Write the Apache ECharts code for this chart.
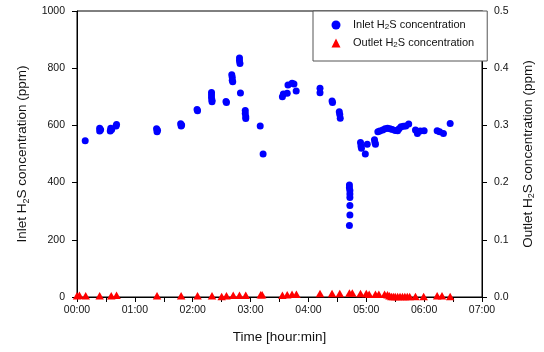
<!DOCTYPE html>
<html>
<head>
<meta charset="utf-8">
<title>H2S concentration</title>
<script src="https://cdn.jsdelivr.net/npm/echarts@6/dist/echarts.min.js"></script>
<style>
  html, body { margin: 0; padding: 0; background: #fff; }
  #chart { width: 544px; height: 352px; }
</style>
</head>
<body>
<div id="chart"></div>
<script>
// Elapsed time in minutes, concentrations in ppm
const inletTime = [
  8.5,
  23.5, 23.5, 24.5,
  34.5, 35, 36,
  40.5, 41,
  82.5, 83, 83.5,
  107.5, 108, 108.5,
  124.5, 125,
  139.5, 139.5, 139.5, 140, 140,
  154.5, 155,
  160.5, 161, 161, 161.5,
  168.5, 168.5, 169,
  169.5,
  174.5, 174.5, 175, 175,
  190,
  193,
  213, 214, 218, 218.8, 223, 225, 227.3,
  252, 252,
  264.5, 265,
  272, 272.5, 273,
  282.5, 282.5, 283, 283, 283, 283, 283, 282.5,
  294, 294.5, 295,
  299,
  301,
  308.5, 309, 309.5,
  312, 314, 317, 319.5, 322, 324.5, 327, 330, 332.5, 334, 336, 338.5, 341, 344,
  351, 353, 356, 360,
  373.5, 376, 380,
  387
];
const inletValue = [
  546,
  590, 580, 585,
  580, 590, 586,
  598, 603,
  588, 578, 583,
  606, 598, 601,
  656, 651,
  715, 706, 697, 688, 683,
  684, 680,
  777, 768, 758, 753,
  836, 826, 816,
  713,
  652, 642, 630, 624,
  598,
  500,
  700, 710, 712, 741, 747, 745, 720,
  730, 714,
  685, 680,
  648, 638, 625,
  392, 382, 372, 360, 348, 320, 287, 250,
  540, 528, 520,
  500,
  534,
  550, 540, 534,
  578, 580, 584, 588, 590, 588, 586, 582, 581, 588, 595, 597, 598, 605,
  584, 572, 580, 581,
  581, 578, 572,
  607
];
const outletTime = [
  0, 2.5, 9, 23.5, 35.5, 41, 83, 108, 125, 140, 150, 155, 162, 168.5, 175,
  190.5, 192, 213, 218, 223, 227.5, 252, 264.5, 272.5, 282.5, 285.5, 294,
  300, 303, 309.5, 313, 319, 322, 324, 326, 328, 330, 332.5, 335, 337.5,
  340, 342.5, 345, 351, 359.5, 373.5, 378.5, 387
];
const outletValue = [
  0.002, 0.003, 0.002, 0.002, 0.002, 0.003, 0.002, 0.002, 0.002, 0.002, 0.001, 0.002, 0.003, 0.003, 0.003,
  0.004, 0.004, 0.003, 0.004, 0.005, 0.005, 0.006, 0.006, 0.006, 0.007, 0.007, 0.006,
  0.006, 0.005, 0.005, 0.005, 0.005, 0.004, 0.002, 0.001, 0.001, 0.001, 0.001, 0.001, 0.001,
  0.001, 0.001, 0.001, 0.001, 0.001, 0.002, 0.002, 0.001
];
const seriesNames = ['Inlet H2S concentration', 'Outlet H2S concentration'];

const FONT = '"Liberation Sans", Arial, sans-serif';
const inletData = inletTime.map((t, i) => [t, inletValue[i]]);
const outletData = outletTime.map((t, i) => [t, outletValue[i]]);

// Axis titles with a subscript "2" in H2S
function richLabel(text) {
  const parts = text.split('H2S');
  return '{a|' + parts[0] + 'H}{s|2}{a|S' + parts[1] + '}';
}
const titleRich = {
  a: { fontFamily: FONT, fontSize: 13.5, color: '#111', lineHeight: 16 },
  s: { fontFamily: FONT, fontSize: 9, color: '#111', lineHeight: 5, verticalAlign: 'bottom' }
};

const chart = echarts.init(document.getElementById('chart'), null, { renderer: 'canvas' });
chart.setOption({
  animation: false,
  backgroundColor: '#fff',
  grid: {
    left: 77, right: 58, top: 11, bottom: 55,
    show: true, borderColor: '#000', borderWidth: 1, backgroundColor: 'transparent'
  },
  legend: {
    left: 313, top: 11,
    orient: 'vertical',
    padding: [8, 13, 12, 18.5],
    itemGap: 6,
    itemWidth: 9, itemHeight: 9,
    backgroundColor: '#fff',
    borderColor: '#555', borderWidth: 1,
    data: [
      { name: seriesNames[0], icon: 'circle' },
      { name: seriesNames[1], icon: 'triangle' }
    ],
    formatter: function (name) {
      const parts = name.split('H2S');
      return '{sp| }{t|' + parts[0] + 'H}{s|2}{t|S' + parts[1] + '}';
    },
    textStyle: {
      rich: {
        sp: { width: 7.5 },
        t: { fontFamily: FONT, fontSize: 11, color: '#111', lineHeight: 12 },
        s: { fontFamily: FONT, fontSize: 8, color: '#111', lineHeight: 4, verticalAlign: 'bottom' }
      }
    }
  },
  xAxis: {
    type: 'value',
    min: 0, max: 420, interval: 30,
    name: 'Time [hour:min]',
    nameLocation: 'middle',
    nameGap: 33,
    nameTextStyle: { fontFamily: FONT, fontSize: 13.5, color: '#111' },
    axisLine: { lineStyle: { color: '#000', width: 1 } },
    axisTick: { length: 5, lineStyle: { color: '#000' } },
    splitLine: { show: false },
    axisLabel: {
      margin: 8,
      fontFamily: FONT, fontSize: 10.5, color: '#111',
      showMinLabel: true, showMaxLabel: true,
      formatter: function (v) {
        if (v % 60 !== 0) return '';
        const h = Math.floor(v / 60);
        return (h < 10 ? '0' : '') + h + ':00';
      }
    }
  },
  yAxis: [
    {
      type: 'value',
      min: 0, max: 1000, interval: 200,
      name: richLabel('Inlet H2S concentration (ppm)'),
      nameLocation: 'middle',
      nameGap: 46,
      nameRotate: 90,
      nameTextStyle: { rich: titleRich },
      axisLine: { show: true, lineStyle: { color: '#000', width: 1 } },
      axisTick: { show: true, length: 5, lineStyle: { color: '#000' } },
      splitLine: { show: false },
      axisLabel: {
        margin: 12, fontFamily: FONT, fontSize: 10.5, color: '#111',
        formatter: v => String(v)
      }
    },
    {
      type: 'value',
      position: 'right',
      min: 0, max: 0.5, interval: 0.1,
      name: richLabel('Outlet H2S concentration (ppm)'),
      nameLocation: 'middle',
      nameGap: 38,
      nameRotate: 90,
      nameTextStyle: { rich: titleRich },
      axisLine: { show: true, lineStyle: { color: '#000', width: 1 } },
      axisTick: { show: true, length: 5, lineStyle: { color: '#000' } },
      splitLine: { show: false },
      axisLabel: {
        margin: 12, fontFamily: FONT, fontSize: 10.5, color: '#111',
        formatter: v => v.toFixed(1)
      }
    }
  ],
  series: [
    {
      name: seriesNames[0],
      type: 'scatter',
      yAxisIndex: 0,
      symbol: 'circle',
      symbolSize: 7,
      itemStyle: { color: '#0000ff', opacity: 1 },
      clip: false,
      data: inletData
    },
    {
      name: seriesNames[1],
      type: 'scatter',
      yAxisIndex: 1,
      symbol: 'triangle',
      symbolSize: [8.5, 7.5],
      itemStyle: { color: '#ff0000', opacity: 1 },
      clip: false,
      data: outletData
    }
  ]
});
</script>
</body>
</html>
